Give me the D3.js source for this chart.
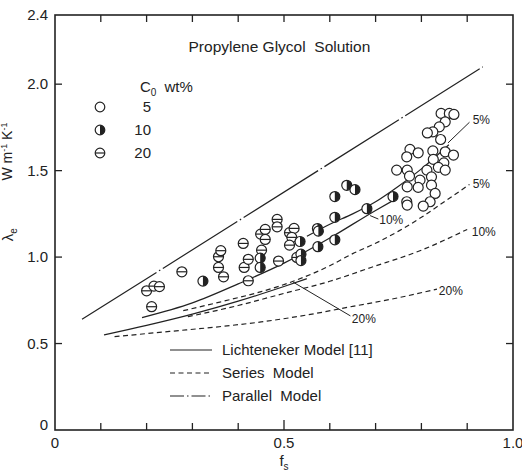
<!DOCTYPE html>
<html lang="en">
<head>
<meta charset="UTF-8">
<title>Propylene Glycol Solution</title>
<script src="https://d3js.org/d3.v7.min.js"></script>
<style>
  body { margin: 0; background: #fff; }
  text { font-family: "Liberation Sans", "DejaVu Sans", sans-serif; fill: #222; }
  .frame { fill: none; stroke: #222; stroke-width: 1.6px; }
  .tick { stroke: #222; stroke-width: 1.3px; }
  .model { fill: none; stroke: #222; stroke-width: 1.2px; }
  .pt { fill: #fff; stroke: #222; stroke-width: 1.2px; }
</style>
</head>
<body>
<svg id="chart" width="522" height="474"></svg>
<script>
// axis ticks
const xTicks = [0, 0.5, 1.0];
const xTickLabels = ["0", "0.5", "1.0"];
const yTicks = [0, 0.5, 1.0, 1.5, 2.0, 2.4];
const yTickLabels = ["0", "0.5", "1.0", "1.5", "2.0", "2.4"];

// measured points [fs, lambda_e]
const pts5 = [
  [0.843, 1.831], [0.861, 1.831], [0.871, 1.825], [0.852, 1.782], [0.839, 1.753],
  [0.825, 1.724], [0.813, 1.718], [0.842, 1.680], [0.775, 1.623], [0.793, 1.603],
  [0.768, 1.580], [0.825, 1.614], [0.852, 1.609], [0.870, 1.590], [0.826, 1.565],
  [0.849, 1.545], [0.837, 1.519], [0.852, 1.503], [0.746, 1.503], [0.769, 1.503],
  [0.774, 1.468], [0.812, 1.503], [0.822, 1.464], [0.797, 1.445], [0.769, 1.406],
  [0.793, 1.403], [0.822, 1.416], [0.830, 1.368], [0.768, 1.320], [0.769, 1.301],
  [0.819, 1.320], [0.804, 1.295]
];
const pts10 = [
  [0.323, 0.861], [0.448, 0.994], [0.448, 0.940], [0.535, 1.090], [0.537, 1.017],
  [0.537, 0.980], [0.574, 1.060], [0.573, 1.165], [0.575, 1.150], [0.611, 1.350],
  [0.611, 1.230], [0.611, 1.100], [0.637, 1.415], [0.655, 1.390], [0.681, 1.280],
  [0.738, 1.350]
];
const pts20 = [
  [0.200, 0.805], [0.216, 0.832], [0.228, 0.829], [0.211, 0.713], [0.277, 0.915],
  [0.357, 1.002], [0.362, 1.037], [0.357, 0.940], [0.368, 0.886], [0.411, 1.079],
  [0.413, 0.940], [0.422, 0.863], [0.422, 0.987], [0.449, 1.133], [0.459, 1.160],
  [0.459, 1.102], [0.451, 1.040], [0.485, 1.218], [0.485, 1.175], [0.488, 0.977],
  [0.512, 1.141], [0.522, 1.166], [0.517, 1.114], [0.512, 1.069], [0.528, 0.998]
];

// model curves [fs, lambda_e]
const lich5 = [[0.55, 1.12], [0.60, 1.19], [0.65, 1.25], [0.70, 1.32], [0.75, 1.41], [0.80, 1.51], [0.86, 1.65]];
const lich10 = [[0.19, 0.65], [0.30, 0.735], [0.40, 0.845], [0.50, 0.965], [0.60, 1.11], [0.70, 1.27], [0.74, 1.33]];
const lich20 = [[0.107, 0.55], [0.20, 0.605], [0.30, 0.67], [0.40, 0.745], [0.50, 0.83], [0.55, 0.875]];
const series5 = [[0.28, 0.69], [0.36, 0.74], [0.45, 0.80], [0.52, 0.86], [0.60, 0.95], [0.65, 1.02], [0.70, 1.08], [0.75, 1.15], [0.80, 1.23], [0.85, 1.32], [0.905, 1.42]];
const series10 = [[0.29, 0.655], [0.40, 0.72], [0.50, 0.79], [0.60, 0.86], [0.69, 0.94], [0.80, 1.04], [0.90, 1.16]];
const series20 = [[0.13, 0.54], [0.25, 0.57], [0.35, 0.595], [0.45, 0.625], [0.55, 0.665], [0.65, 0.715], [0.75, 0.765], [0.834, 0.815]];
const parallel5 = [[0.059, 0.64], [0.934, 2.10]];

const margin = { top: 15, right: 9, bottom: 44, left: 55 };
const width = 522 - margin.left - margin.right,
      height = 474 - margin.top - margin.bottom;

const svg = d3.select("#chart")
  .append("g")
  .attr("transform", `translate(${margin.left},${margin.top})`);

const x = d3.scaleLinear().domain([0, 1]).range([0, width]);
const y = d3.scaleLinear().domain([0, 2.4]).range([height, 0]);

// frame
svg.append("rect").attr("class", "frame")
  .attr("x", 0).attr("y", 0).attr("width", width).attr("height", height);

// minor ticks on bottom / top
d3.range(1, 10).forEach(i => {
  const v = i / 10, len = i === 5 ? 10 : 7;
  svg.append("line").attr("class", "tick")
    .attr("x1", x(v)).attr("x2", x(v)).attr("y1", height).attr("y2", height - len);
  svg.append("line").attr("class", "tick")
    .attr("x1", x(v)).attr("x2", x(v)).attr("y1", 0).attr("y2", 7);
});
// left / right ticks
[0.5, 1.0, 1.5, 2.0].forEach(v => {
  svg.append("line").attr("class", "tick")
    .attr("x1", 0).attr("x2", 7).attr("y1", y(v)).attr("y2", y(v));
  svg.append("line").attr("class", "tick")
    .attr("x1", width).attr("x2", width - 7).attr("y1", y(v)).attr("y2", y(v));
});

// tick labels
svg.selectAll(".xl").data(xTicks).enter().append("text")
  .attr("x", d => x(d)).attr("y", height + 18)
  .attr("text-anchor", "middle").style("font-size", "15px")
  .text((d, i) => xTickLabels[i]);
svg.selectAll(".yl").data(yTicks).enter().append("text")
  .attr("x", -7).attr("y", d => y(d) + 5 - (d === 0 ? 5 : 0))
  .attr("text-anchor", "end").style("font-size", "15px")
  .text((d, i) => yTickLabels[i]);

// axis titles
const xt = svg.append("text").attr("x", x(0.5)).attr("y", height + 36)
  .attr("text-anchor", "middle").style("font-size", "15px");
xt.append("tspan").text("f");
xt.append("tspan").attr("dy", 4).style("font-size", "10px").text("s");

const yt = svg.append("text")
  .attr("transform", `translate(${-42},${y(1.13)}) rotate(-90)`)
  .attr("text-anchor", "middle").style("font-size", "15px");
yt.append("tspan").text("λ");
yt.append("tspan").attr("dy", 4).style("font-size", "10px").text("e");

const yu = svg.append("text")
  .attr("transform", `translate(${-43},${y(1.61)}) rotate(-90)`)
  .attr("text-anchor", "middle").style("font-size", "14px");
yu.append("tspan").text("W m");
yu.append("tspan").attr("dy", -5).style("font-size", "9px").text("-1");
yu.append("tspan").attr("dy", 5).text(" K");
yu.append("tspan").attr("dy", -5).style("font-size", "9px").text("-1");

// title
svg.append("text").attr("x", x(0.49)).attr("y", 37)
  .attr("text-anchor", "middle").style("font-size", "15.5px")
  .attr("xml:space", "preserve")
  .text("Propylene Glycol  Solution");

// model curves
const line = d3.line().x(d => x(d[0])).y(d => y(d[1])).curve(d3.curveMonotoneX);
const curves = [
  { data: lich5, dash: null }, { data: lich10, dash: null }, { data: lich20, dash: null },
  { data: series5, dash: "5,3.5" }, { data: series10, dash: "5,3.5" }, { data: series20, dash: "5,3.5" },
  { data: parallel5, dash: "88,3,1.5,3" }
];
svg.selectAll(".model").data(curves).enter().append("path")
  .attr("class", "model")
  .attr("d", d => line(d.data))
  .attr("stroke-dasharray", d => d.dash);

// curve labels with leaders
const curveLabels = [
  { t: "5%", at: [0.858, 1.66], lx: 0.905, ly: 1.78, tx: 0.912, ty: 1.77 },
  { t: "5%", at: null, tx: 0.912, ty: 1.40 },
  { t: "10%", at: null, tx: 0.91, ty: 1.12 },
  { t: "10%", at: [0.688, 1.24], lx: 0.706, ly: 1.22, tx: 0.708, ty: 1.19 },
  { t: "20%", at: null, tx: 0.838, ty: 0.78 },
  { t: "20%", at: [0.52, 0.855], lx: 0.645, ly: 0.66, tx: 0.648, ty: 0.62 }
];
curveLabels.forEach(c => {
  if (c.at) {
    svg.append("line").attr("class", "tick").style("stroke-width", "1px")
      .attr("x1", x(c.at[0])).attr("y1", y(c.at[1]))
      .attr("x2", x(c.lx)).attr("y2", y(c.ly));
  }
  svg.append("text").attr("x", x(c.tx)).attr("y", y(c.ty))
    .style("font-size", "12px").text(c.t);
});

// data points
const r = 5;
function drawPoint(g, px, py, kind, rr) {
  g.append("circle").attr("class", "pt").attr("cx", px).attr("cy", py).attr("r", rr);
  if (kind === 10) {
    g.append("path").attr("fill", "#222")
      .attr("d", `M${px},${py - rr} A${rr},${rr} 0 0 1 ${px},${py + rr} Z`);
  } else if (kind === 20) {
    g.append("line").attr("stroke", "#222").attr("stroke-width", 1.2)
      .attr("x1", px - rr).attr("x2", px + rr).attr("y1", py).attr("y2", py);
  }
}
const pg = svg.append("g");
pts20.forEach(d => drawPoint(pg, x(d[0]), y(d[1]), 20, r));
pts10.forEach(d => drawPoint(pg, x(d[0]), y(d[1]), 10, r));
pts5.forEach(d => drawPoint(pg, x(d[0]), y(d[1]), 5, r));

// symbol legend
svg.append("text").attr("x", 85).attr("y", 77).style("font-size", "15px")
  .call(t => {
    t.append("tspan").text("C");
    t.append("tspan").attr("dy", 4).style("font-size", "10px").text("0");
    t.append("tspan").attr("dy", -4).attr("dx", 8).text("wt%");
  });
const legendRows = [{ k: 5, t: "5" }, { k: 10, t: "10" }, { k: 20, t: "20" }];
legendRows.forEach((row, i) => {
  const ly = 92 + i * 23;
  drawPoint(svg, 45, ly, row.k, 4.8);
  svg.append("text").attr("x", 96).attr("y", ly + 5)
    .attr("text-anchor", "end").style("font-size", "15px").text(row.t);
});

// line legend
const lineLegend = [
  { t: "Lichteneker Model [11]", dash: null },
  { t: "Series  Model", dash: "5,3.5" },
  { t: "Parallel  Model", dash: "14,3,1.5,3" }
];
lineLegend.forEach((row, i) => {
  const ly = 335 + i * 23;
  svg.append("line").attr("class", "model")
    .attr("x1", 115).attr("x2", 157).attr("y1", ly).attr("y2", ly)
    .attr("stroke-dasharray", row.dash);
  svg.append("text").attr("x", 167).attr("y", ly + 5)
    .attr("xml:space", "preserve").style("font-size", "15px").text(row.t);
});
</script>
</body>
</html>
